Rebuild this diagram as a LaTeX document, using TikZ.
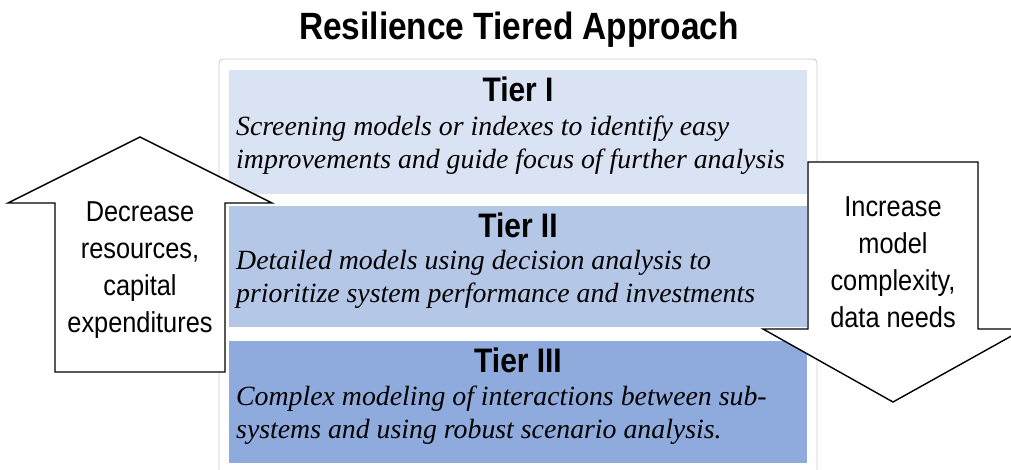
\documentclass[tikz,border=0pt]{standalone}
\usepackage{fontspec}
\setmainfont{Liberation Serif}
\newfontfamily\narrowsans[FakeStretch=0.88]{Liberation Sans}
\definecolor{tierone}{HTML}{DAE3F3}
\definecolor{tiertwo}{HTML}{B4C7E7}
\definecolor{tierthree}{HTML}{8FAADC}
\definecolor{framegray}{HTML}{C8C8C8}
\tikzset{
  tiertitle/.style={anchor=base,inner sep=0pt,font=\narrowsans\bfseries\fontsize{34}{34}\selectfont},
  tiertext/.style={anchor=north west,inner sep=0pt,align=left,font=\itshape\fontsize{27.8}{33}\selectfont},
  arrowtext/.style={anchor=north,inner sep=0pt,align=center,font=\narrowsans\fontsize{28.8}{37}\selectfont},
  blockarrow/.style={draw=black,fill=white,line width=1.4pt,line join=miter}
}
\begin{document}
\begin{tikzpicture}[x=1pt,y=-1pt]
    \useasboundingbox (0,0) rectangle (1011,470);
    \node[anchor=base,inner sep=0pt,font=\narrowsans\bfseries\fontsize{38}{38}\selectfont] (title) at (519,40) {Resilience Tiered Approach};
    \draw[framegray,line width=0.8pt,rounded corners=4pt] (219,480) -- (219,59) -- (817,59) -- (817,480);
    \fill[tierone] (229,70) rectangle (807,194);
    \fill[tiertwo] (229,206) rectangle (807,327);
    \fill[tierthree] (229,341) rectangle (807,463);
    \node[tiertitle] (t1) at (518,102) {Tier I};
    \node[tiertext] (d1) at (236,116) {Screening models or indexes to identify easy\\improvements and guide focus of further analysis};
    \node[tiertitle] (t2) at (518,237) {Tier II};
    \node[tiertext] (d2) at (236,250) {Detailed models using decision analysis to\\prioritize system performance and investments};
    \node[tiertitle] (t3) at (518,372) {Tier III};
    \node[tiertext] (d3) at (236,386) {Complex modeling of interactions between sub-\\systems and using robust scenario analysis.};
    \draw[blockarrow] (55,372) -- (55,203) -- (8,203) -- (140,137) -- (272,203) -- (225,203) -- (225,372) -- cycle;
    \draw[blockarrow] (808,162) -- (978,162) -- (978,329) -- (1024,329) -- (893,402) -- (763,329) -- (808,329) -- cycle;
    \node[arrowtext] (up) at (140,201) {Decrease\\resources,\\capital\\expenditures};
    \node[arrowtext] (down) at (893,196) {Increase\\model\\complexity,\\data needs};
\end{tikzpicture}
\end{document}
